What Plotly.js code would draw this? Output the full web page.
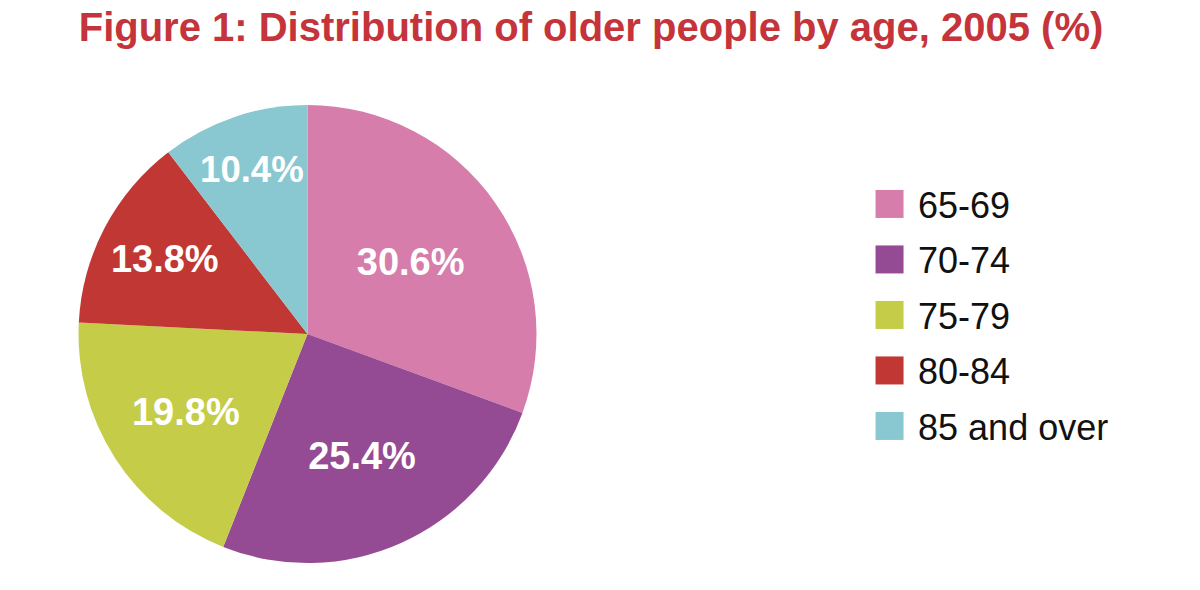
<!DOCTYPE html>
<html>
<head>
<meta charset="utf-8">
<script src="https://cdn.plot.ly/plotly-3.0.1.min.js"></script>
<style>
  html, body { margin: 0; padding: 0; background: #fff; }
  #chart { width: 1200px; height: 590px; }
</style>
</head>
<body>
<div id="chart"></div>
<script>
// data
var age_groups = ['65-69', '70-74', '75-79', '80-84', '85 and over'];
var shares = [30.6, 25.4, 19.8, 13.8, 10.4];
var share_labels = ['30.6%', '25.4%', '19.8%', '13.8%', '10.4%'];
var slice_colors = ['#D67DAC', '#954A94', '#C5CD48', '#C13733', '#89C8D0'];

var pie = {
  type: 'pie',
  labels: age_groups,
  values: shares,
  text: share_labels,
  textinfo: 'text',
  textposition: 'inside',
  insidetextorientation: 'horizontal',
  insidetextfont: {family: 'Liberation Sans, Arial, sans-serif', size: 38, color: '#ffffff', weight: 'bold'},
  marker: {colors: slice_colors, line: {width: 0}},
  sort: false,
  direction: 'clockwise',
  rotation: 0,
  hoverinfo: 'label+percent',
  domain: {x: [0.065, 0.4475], y: [0.0458, 0.822]}
};

var layout = {
  width: 1200,
  height: 590,
  margin: {l: 0, r: 0, t: 0, b: 0},
  paper_bgcolor: '#ffffff',
  title: {
    text: '<b>Figure 1: Distribution of older people by age, 2005 (%)</b>',
    font: {family: 'Liberation Sans, Arial, sans-serif', size: 40, color: '#C4343A'},
    x: 0.4925, xanchor: 'center',
    y: 0.955, yanchor: 'middle'
  },
  showlegend: true,
  legend: {
    x: 0.7317, xanchor: 'left',
    y: 0.705, yanchor: 'top',
    font: {family: 'Liberation Sans, Arial, sans-serif', size: 36, color: '#111111'},
    traceorder: 'normal'
  }
};

var row_gap = 55.5;

Plotly.newPlot('chart', [pie], layout, {displayModeBar: false, staticPlot: true}).then(function () {
  // bigger legend squares, set a little left of the text
  document.querySelectorAll('.legendpoints path').forEach(function (p) {
    p.setAttribute('d', 'M5.5,14H-22.5V-14H5.5Z');
  });
  // wider spacing between legend rows
  var items = document.querySelectorAll('.legend .traces');
  var y0 = null;
  items.forEach(function (g, i) {
    var m = /translate\(([-\d.]+)[ ,]+([-\d.]+)\)/.exec(g.getAttribute('transform') || '');
    if (!m) return;
    if (y0 === null) y0 = parseFloat(m[2]);
    g.setAttribute('transform', 'translate(' + m[1] + ',' + (y0 + i * row_gap) + ')');
  });
  document.querySelectorAll('.legend [clip-path]').forEach(function (el) {
    el.removeAttribute('clip-path');
  });
});
</script>
</body>
</html>
